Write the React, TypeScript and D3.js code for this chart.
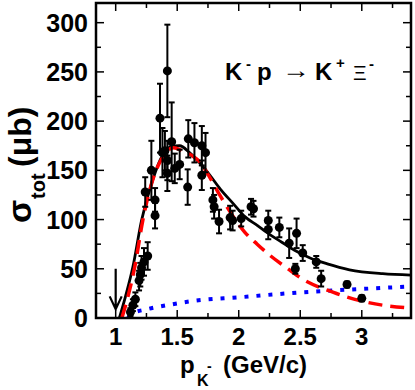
import React, { useEffect, useRef } from 'react'
import * as d3 from 'd3'

// measured cross sections: momentum, sigma, error
const pK = [1.12, 1.14, 1.16, 1.19, 1.2, 1.21, 1.23, 1.26, 1.24, 1.32, 1.32, 1.29, 1.36, 1.42, 1.455, 1.38, 1.4, 1.42, 1.42, 1.48, 1.52, 1.585, 1.59, 1.64, 1.7, 1.73, 1.7, 1.79, 1.8, 1.84, 1.93, 1.95, 2.02, 2.1, 2.12, 2.24, 2.24, 2.33, 2.41, 2.47, 2.52, 2.46, 2.63, 2.67, 2.88, 3.0]
const sigma = [6, 13, 19, 38, 44, 51, 57, 63, 128, 120, 104, 150, 203, 251, 179, 168, 170, 160, 147, 152, 156, 133, 182, 178, 175, 168, 145, 120, 113, 98, 102, 99, 101, 113, 111, 99, 90, 92, 76, 86, 66, 50, 57, 40, 34, 20]
const sigmaErr = [4, 6, 7, 10, 12, 12, 14, 14, 15, 12, 13, 30, 35, 47, 40, 25, 20, 20, 18, 15, 15, 18, 19, 20, 20, 20, 15, 12, 12, 12, 12, 10, 8, 8, 8, 10, 10, 10, 15, 15, 8, 5, 6, 8, 3, 3]

// model curves: total (solid), resonance part (dashed), background (dotted)
const totalX = [1.03, 1.08, 1.14, 1.21, 1.3, 1.38, 1.45, 1.52, 1.6, 1.68, 1.76, 1.85, 1.95, 2.05, 2.15, 2.25, 2.35, 2.45, 2.58, 2.72, 2.9, 3.17, 3.4]
const totalY = [0, 22, 52, 99, 140, 165, 174, 175, 168, 158, 146, 131, 117, 103, 94, 85, 77, 69, 61, 55, 49, 45, 43.5]
const resX = [1.05, 1.1, 1.155, 1.22, 1.3, 1.38, 1.47, 1.54, 1.62, 1.68, 1.74, 1.85, 1.95, 2.05, 2.15, 2.25, 2.4, 2.5, 2.77, 3.04, 3.4]
const resY = [0, 22, 52, 99, 140, 163, 173, 170, 165, 159, 148, 124, 104, 87, 75, 64, 50, 41, 26, 16, 10]
const bgX = [1.1, 1.14, 1.24, 1.44, 1.64, 2.0, 2.5, 3.0, 3.4]
const bgY = [0, 5, 8.5, 13.5, 17.5, 21, 26, 29.5, 32]

const xTicks = [1, 1.5, 2, 2.5, 3]
const yTicks = [0, 50, 100, 150, 200, 250, 300]

const W = 415
const H = 390

const App = () => {
  const ref = useRef<SVGSVGElement>(null)

  useEffect(() => {
    const svg = d3.select(ref.current)
    svg.selectAll('*').remove()

    const x = d3.scaleLinear().domain([0.84, 3.4]).range([96, 411])
    const y = d3.scaleLinear().domain([0, 320]).range([318, 3])
    const font = 'Liberation Sans, Arial, Helvetica, sans-serif'

    const clip = svg.append('clipPath').attr('id', 'plot-clip')
    clip.append('rect').attr('x', 96).attr('y', 3).attr('width', 315).attr('height', 315)

    const plot = svg.append('g').attr('clip-path', 'url(#plot-clip)')

    const line = d3.line<number>().curve(d3.curveMonotoneX)
    const drawCurve = (xs: number[], ys: number[]) =>
      line.x((d, i) => x(xs[i])).y((d, i) => y(ys[i]))(xs)

    plot.append('path').attr('d', drawCurve(bgX, bgY))
      .attr('fill', 'none').attr('stroke', '#0000ff').attr('stroke-width', 4)
      .attr('stroke-dasharray', '4 8')
    plot.append('path').attr('d', drawCurve(totalX, totalY))
      .attr('fill', 'none').attr('stroke', '#000').attr('stroke-width', 2.8)
    plot.append('path').attr('d', drawCurve(resX, resY))
      .attr('fill', 'none').attr('stroke', '#ff0000').attr('stroke-width', 3.5)
      .attr('stroke-dasharray', '14 8')

    // data with error bars
    const pts = plot.selectAll('g.pt').data(pK).join('g').attr('class', 'pt')
    pts.append('line')
      .attr('x1', d => x(d)).attr('x2', d => x(d))
      .attr('y1', (d, i) => y(sigma[i] - sigmaErr[i]))
      .attr('y2', (d, i) => y(sigma[i] + sigmaErr[i]))
      .attr('stroke', '#000').attr('stroke-width', 2)
    for (const s of [-1, 1]) {
      pts.append('line')
        .attr('x1', d => x(d) - 3).attr('x2', d => x(d) + 3)
        .attr('y1', (d, i) => y(sigma[i] + s * sigmaErr[i]))
        .attr('y2', (d, i) => y(sigma[i] + s * sigmaErr[i]))
        .attr('stroke', '#000').attr('stroke-width', 2)
    }
    pts.append('circle')
      .attr('cx', d => x(d)).attr('cy', (d, i) => y(sigma[i]))
      .attr('r', 4.5).attr('fill', '#000')

    // threshold arrow
    const ax = x(1)
    svg.append('path')
      .attr('d', `M${ax},${y(50)}V${y(9)}M${ax - 6},${y(22)}L${ax},${y(9)}L${ax + 6},${y(22)}`)
      .attr('fill', 'none').attr('stroke', '#000').attr('stroke-width', 2.2)

    // ticks on all four sides
    const ax0 = svg.append('g').attr('stroke', '#000').attr('stroke-width', 1.5)
    d3.range(1, 3.41, 0.25).forEach(v => {
      const len = Math.abs(v * 2 - Math.round(v * 2)) < 1e-6 ? 8 : 5
      ax0.append('line').attr('x1', x(v)).attr('x2', x(v)).attr('y1', 318).attr('y2', 318 - len)
      ax0.append('line').attr('x1', x(v)).attr('x2', x(v)).attr('y1', 3).attr('y2', 3 + len)
    })
    d3.range(0, 321, 25).forEach(v => {
      const len = v % 50 === 0 ? 8 : 5
      ax0.append('line').attr('x1', 96).attr('x2', 96 + len).attr('y1', y(v)).attr('y2', y(v))
      ax0.append('line').attr('x1', 411).attr('x2', 411 - len).attr('y1', y(v)).attr('y2', y(v))
    })

    svg.append('rect').attr('x', 96).attr('y', 3).attr('width', 315).attr('height', 315)
      .attr('fill', 'none').attr('stroke', '#000').attr('stroke-width', 2.5)

    // tick labels
    svg.append('g').selectAll('text').data(yTicks).join('text')
      .attr('x', 88).attr('y', d => y(d) + 9)
      .attr('text-anchor', 'end').attr('font-family', font)
      .attr('font-weight', 'bold').attr('font-size', 25)
      .text(d => d)
    svg.append('g').selectAll('text').data(xTicks).join('text')
      .attr('x', d => x(d)).attr('y', 345)
      .attr('text-anchor', 'middle').attr('font-family', font)
      .attr('font-weight', 'bold').attr('font-size', 24)
      .text(d => d)

    // axis titles
    const yt = svg.append('text')
      .attr('transform', 'translate(31,223) rotate(-90)')
      .attr('font-family', font).attr('font-weight', 'bold').attr('font-size', 32)
    yt.append('tspan').attr('x', 0).attr('font-size', 34).text('σ')
    yt.append('tspan').attr('x', 24).attr('font-size', 20).attr('dy', 14).text('tot')
    yt.append('tspan').attr('x', 56).attr('dy', -14).text('(μb)')

    const xt = svg.append('text')
      .attr('x', 180).attr('y', 373).attr('font-family', font)
      .attr('font-weight', 'bold').attr('font-size', 24)
    xt.append('tspan').text('p')
    xt.append('tspan').attr('x', 197).attr('font-size', 16).attr('dy', 13).text('K')
    xt.append('tspan').attr('x', 207).attr('font-size', 14).attr('dy', -15).text('-')
    xt.append('tspan').attr('x', 223).attr('dy', 2).text('(GeV/c)')

    // reaction label
    const rl = svg.append('text')
      .attr('x', 225).attr('y', 80).attr('font-family', font)
      .attr('font-weight', 'bold').attr('font-size', 24)
    rl.append('tspan').text('K')
    rl.append('tspan').attr('x', 246).attr('font-size', 15).attr('dy', -11).text('-')
    rl.append('tspan').attr('x', 257).attr('dy', 11).text('p')
    rl.append('tspan').attr('x', 315).text('K')
    rl.append('tspan').attr('x', 336).attr('font-size', 15).attr('dy', -12).text('+')
    rl.append('tspan').attr('x', 353).attr('dy', 12).attr('font-weight', 'normal')
      .attr('font-size', 21).text('Ξ')
    rl.append('tspan').attr('x', 369).attr('font-size', 15).attr('dy', -11).text('-')
    svg.append('text')
      .attr('x', 282).attr('y', 78).attr('font-family', font).attr('font-size', 24)
      .attr('textLength', 28).attr('lengthAdjust', 'spacingAndGlyphs')
      .text('→')
  }, [])

  return (
    <svg ref={ref} width={W} height={H}
      style={{ position: 'absolute', left: 0, top: 0, background: '#fff' }} />
  )
}

export default App
